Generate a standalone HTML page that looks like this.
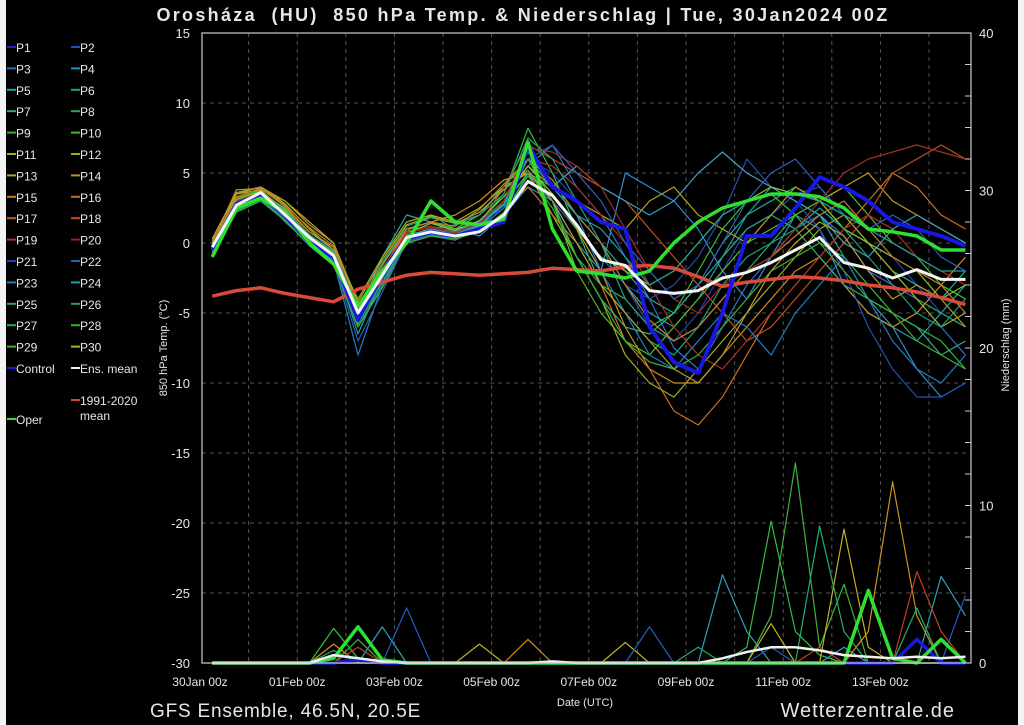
<!DOCTYPE html>
<html><head><meta charset="utf-8"><style>
html,body{margin:0;padding:0;background:#000;}
#wrap{position:relative;width:1024px;height:725px;background:#000;overflow:hidden;}
.edge{position:absolute;top:0;height:725px;background:#f4f4f4;}
svg text{font-family:"Liberation Sans","DejaVu Sans",sans-serif;fill:#e6e6e6;}
</style></head><body>
<div id="wrap">
<div class="edge" style="left:0;width:6px"></div>
<div class="edge" style="left:1018px;width:6px"></div>
<svg id="chart" width="1024" height="725" style="position:absolute;left:0;top:0">
<text x="523" y="21" text-anchor="middle" font-size="18" font-weight="bold" letter-spacing="2.3" style="white-space:pre">Orosháza  (HU)  850 hPa Temp. &amp; Niederschlag | Tue, 30Jan2024 00Z</text>
<text x="150" y="717" font-size="19" letter-spacing="0.8">GFS Ensemble, 46.5N, 20.5E</text>
<text x="955" y="717" text-anchor="end" font-size="20" letter-spacing="1">Wetterzentrale.de</text>
<text x="585" y="706" text-anchor="middle" font-size="11">Date (UTC)</text>
<text transform="translate(167,348) rotate(-90)" text-anchor="middle" font-size="11">850 hPa Temp. (°C)</text>
<text transform="translate(1009,345) rotate(-90)" text-anchor="middle" font-size="11">Niederschlag (mm)</text>
<g id="grid"></g><g id="precip"></g><g id="temps"></g><g id="axes"></g><g id="legend"></g>
</svg>
</div>
<script>
const times=[0.25,0.75,1.25,1.75,2.25,2.75,3.25,3.75,4.25,4.75,5.25,5.75,6.25,6.75,7.25,7.75,8.25,8.75,9.25,9.75,10.25,10.75,11.25,11.75,12.25,12.75,13.25,13.75,14.25,14.75,15.25,15.75];
const xTickLabels=["30Jan 00z","01Feb 00z","03Feb 00z","05Feb 00z","07Feb 00z","09Feb 00z","11Feb 00z","13Feb 00z"];
const xTickDays=[0,2,4,6,8,10,12,14];
const yTicks=[15,10,5,0,-5,-10,-15,-20,-25,-30];
const y2Ticks=[0,10,20,30,40];
const memberColors=["#2040c0","#3070d0","#2f8fcf","#25a0b0","#20b0a0","#20b070","#30c040","#50c020","#a0b020","#c0a020","#d09020","#d07020","#c05020","#b03020","#2050b0","#40a0c0","#30b080","#90c030","#2080c0","#20a080","#40b030","#b0a030","#c08030","#a03020","#3060c0","#20a0a0"];
const m1=[0,3,3.8,2.3,0.5,-1,-4.5,-1.5,1,1.2,0.8,1.5,2.5,6,5,3,0,-3,-6,-7,-5,-2,1,2,3.5,4,2,0,-1,-3,-5,-6];
const m2=[-0.5,2.5,3.4,1.5,0,-1.5,-6,-3,0,0.5,0.2,1,3,5.5,7,4,2,-1,-4,-7.5,-9,-6,-3,-1,1,2,0.5,-2,-3,-4,-6,-8];
const m3=[0.2,3,3.5,2.5,0.8,-0.5,-5.5,-2,1,1.5,1,0.5,2,4,3,0,-2,5,4,3,1,-2,-4,-1,2,1,-3,-5,-6,-9,-11,-10];
const m4=[-0.3,2.8,3.7,2,0.2,-1,-6.5,-2.5,0.5,1,1.3,2,4,5,3,1,-1,-3,-5,-6,-4,-1,2,4,3,2,-1,-4,-6,-7,-5,-3];
const m5=[-0.8,2.4,3.2,1.8,0.5,-0.8,-5,-1,2,1.5,0.8,1.2,3,6,4,2,0,-2,-4,-5,-3,0,2,3,4,3,1,0,-2,-3,-4,-2];
const m6=[-1,2.2,3,1.6,-0.2,-1.6,-5.8,-2.8,0.2,0.6,0.4,1,2,5,2,-1,-3,-5,-7,-8,-6,-4,-2,0,2,3,2,0,-2,-4,-5,-6];
const m7=[-0.5,2.8,3.3,2.2,0.5,-1.2,-5,-2,0.8,2,1,1.5,3.5,8.2,5,1,-3,-4,-6,-5,-2,1,3,3.5,2,0,-1,-3,-5,-6,-7,-9];
const m8=[0,3.2,3.8,2.2,0.3,-0.7,-4.5,-1.5,1,1.5,1,2,4,6,3,-2,-5,-7,-8,-6,-4,-2,0,1,2,3,4,2,0,-1,-3,-4];
const m9=[0.3,3.5,4,2.8,1,-0.5,-4,-1,1.5,2,1.5,2.5,4,5,2,-1,-4,-8,-10,-11,-9,-7,-5,-3,-1,1,2,0,-2,-4,-6,-5];
const m10=[-0.2,3.5,3.8,3,1.5,0,-4.5,-1.8,0.5,1,0.5,1.5,3,5.5,4,3,2,1,3,4,2,1,0,2,4,3,4,5,3,2,1,0];
const m11=[0,3.8,3.9,2.6,0.8,-0.3,-5,-2,1,1.5,2,3,4.5,5,3,1,-2,-6,-9,-10,-10,-8,-6,-4,-2,-1,-3,-5,-6,-5,-3,-1];
const m12=[-0.5,3,3.6,2,0.2,-1,-4.8,-1.8,0.5,1,0.5,1,2.5,4,2,0,-3,-7,-9,-12,-13,-11,-8,-5,-3,-1,1,3,5,4,2,1];
const m13=[-0.3,2.6,3.4,1.8,0.3,-1.2,-5.2,-2.2,0.4,0.9,0.6,1.3,4,7,6,5,4,3,1,-1,-3,-5,-7,-6,-4,-2,0,2,5,6,7,6];
const m14=[0.2,3,3.6,2.2,0.5,-0.8,-4.8,-2,0.8,1.2,0.8,1.5,3,6,5.5,4,2,0,-3,-6,-8,-9,-7,-5,-3,-1,1,2,1,-1,-2,-3];
const m15=[-0.6,2.4,3.2,1.7,0,-1.4,-5.6,-2.6,0.3,0.6,0.3,1,2.5,4.5,3,1,-1,-3,-4,-3,-1,2,6,4,3,1,-2,-6,-9,-11,-11,-10];
const m16=[-0.2,2.9,3.5,2,0.3,-1,-5.3,-2.3,0.5,1,0.7,1.3,2.7,5,4,5.5,4,3,2,3,5,6.5,5,4,3,2,0,-1,1,2,1,0];
const m17=[-0.4,2.7,3.5,2.1,0.4,-0.9,-5,-2.2,0.6,0.9,0.6,1.2,2.8,5,3,-1,-4,-6,-6.5,-5,-3,-1,1,2,1,-1,-3,-4,-5,-6,-8,-7];
const m18=[0.1,3.1,3.7,2.4,0.6,-0.7,-4.8,-2,0.7,1.4,0.9,1.6,3.3,5.5,3.5,1,-1,-2,-3,-2,0,2,3,4,3.5,3,1,0,-1,-2,-4,-3];
const m19=[-0.4,2.6,3.3,1.9,0.1,-1.3,-8,-3,0.2,1,0.8,1.5,3,6.5,4,2,-2,-5,-8,-9,-7,-5,-6,-8,-5,-3,-1,-4,-7,-9,-10,-8];
const m20=[-0.1,2.9,3.6,2.3,0.6,-0.6,-4.6,-1.4,1.2,1.8,1.4,2,3.5,7.5,6,3,0,-4,-6,-7,-6,-3,-1,0,1,2.5,1,-1,-3,-5,-6,-4];
const m21=[-0.7,2.3,3.1,1.6,-0.1,-1.5,-6,-3.2,0,0.5,0.3,0.8,2.2,4.8,2.5,-1,-4,-7,-8.5,-9,-8,-6,-4,-2,-1,0,-2,-4,-5,-7,-8,-9];
const m22=[0.3,3.6,4,3,1.3,0,-4.2,-1.2,1.3,1.9,1.4,2.2,3.8,5.2,3,0,-3,-5,-7,-9,-10,-8,-5,-2,0,1.5,0.5,-2,-4,-3,-4,-6];
const m23=[0,3.3,3.9,2.7,1.1,-0.2,-4.5,-1.6,1,1.5,1.2,2.4,4.2,6,4.5,2,0,-3,-5.5,-7,-6,-4,-2,-1,0.5,2,3,1,-1,-2,-3,-5];
const m24=[-0.2,2.8,3.6,2.1,0.4,-0.9,-5.1,-2.1,0.7,1.1,0.7,1.4,3,6.8,6.5,5.5,4,1,-2,-4,-5,-3,-2,-1,1,3,5,6,6.5,7,6.5,6];
const m25=[-0.5,2.5,3.3,1.8,0,-1.3,-7,-3.5,0.1,0.6,0.4,1.1,2.5,6,7,5,3,0,-2,-4,-3,0,3,5,6,4,2,1,2,1,-1,-2];
const m26=[-0.3,2.7,3.5,2,0.3,-1,-5.2,-2.4,0.5,0.9,0.6,1.2,2.8,6,4,2,1,-1,-3,-2,0,2,3,3.5,3.5,3,2,1,0,-1,-2,-2];
const members=[m1,m2,m3,m4,m5,m6,m7,m8,m9,m10,m11,m12,m13,m14,m15,m16,m17,m18,m19,m20,m21,m22,m23,m24,m25,m26];
const climMean=[-3.8,-3.4,-3.2,-3.6,-3.9,-4.2,-3.3,-2.8,-2.3,-2.1,-2.2,-2.3,-2.2,-2.1,-1.8,-1.9,-2,-1.7,-1.6,-1.8,-2.4,-3.1,-2.8,-2.6,-2.4,-2.5,-2.7,-3,-3.2,-3.5,-3.9,-4.4];
const ensMean=[-0.3,2.7,3.6,2,0.4,-0.9,-5,-2.3,0.4,0.8,0.5,0.8,2,4.4,3.4,1.3,-1.2,-1.6,-3.4,-3.6,-3.4,-2.5,-2.1,-1.4,-0.5,0.4,-1.4,-1.8,-2.5,-1.9,-2.6,-2.6];
const control=[-0.5,2.8,3.5,2,0,-1,-5.5,-2,0.3,0.8,0.5,1,1.5,7,4,3,1.5,1,-6,-8.5,-9.3,-5,0.5,0.5,2.5,4.7,4,3,1.5,1,0.5,-0.2];
const oper=[-1,2.5,3.2,2.2,0,-1.5,-4.5,-2,0,3,1.5,1.3,1.7,7.2,1,-2,-2.2,-2.5,-2,0,1.5,2.5,3,3.5,3.5,3.3,2.5,1,0.8,0.5,-0.5,-0.5];
const precipColors=["#30c040","#40b040","#30a0c0","#d09020","#c0b020","#c04020","#2060c0","#20b070"];
const pA=[0,0,0,0,0,2.2,0.3,0,0,0,0,0,0,0,0,0,0,0,0,0,0,0,1,9,2,0.5,0,0,0,0,0,0];
const pB=[0,0,0,0,0,0,1.5,0,0,0,0,0,0,0,0,0,0,0,0,0,0,0,0,3,12.7,1,5,0,0,0,0,0];
const pC=[0,0,0,0,0,0,0,2.3,0,0,0,0,0,0,0,0,0,0,0,0,0,5.6,2,0,0,0,1,0,0,0,5.5,3];
const pD=[0,0,0,0,0,1.2,0,0,0,0,0,0,0,1.5,0,0,0,0,0,0,0,0,0,0,0,0,0,2,11.5,3,0,0];
const pE=[0,0,0,0,0,0,0,0,0,0,0,1.2,0,0,0,0,0,1.3,0,0,0,0,0,2.5,0,0,8.5,1,0,0,0,0];
const pF=[0,0,0,0,0,0,1,0,0,0,0,0,0,0,0,0,0,0,0,0,0,0,0,0,0,1,0,0,0,5.8,2,0];
const pG=[0,0,0,0,0,0,0,0,3.5,0,0,0,0,0,0,0,0,0,2.3,0,0,0,0,1,0,0,0,0,0,0,0,4.3];
const pH=[0,0,0,0,0,0.8,0,0,0,0,0,0,0,0,0,0,0,0,0,0,1,0,0,0,0,8.7,2,0,0,3.5,0,0];
const precipMembers=[pA,pB,pC,pD,pE,pF,pG,pH];
const precipOper=[0,0,0,0,0,0.3,2.3,0.2,0,0,0,0,0,0,0,0,0,0,0,0,0,0,0,0,0,0,0,4.6,0.3,0,1.5,0];
const precipControl=[0,0,0,0,0,0,0.2,0,0,0,0,0,0,0,0,0,0,0,0,0,0,0,0,0,0,0,0,0,0,1.5,0,0];
const precipMean=[0,0,0,0,0,0.5,0.3,0.1,0,0,0,0,0,0,0.1,0,0,0,0,0,0,0.3,0.7,1,1,0.8,0.5,0.4,0.3,0.4,0.3,0.4];
const legendLabels=["P1","P2","P3","P4","P5","P6","P7","P8","P9","P10","P11","P12","P13","P14","P15","P16","P17","P18","P19","P20","P21","P22","P23","P24","P25","P26","P27","P28","P29","P30"];
const legendColors=["#2020c0","#2050c0","#2070c0","#2090c0","#20a0b0","#20a090","#20b070","#20b050","#30b030","#40c020","#a0b020","#b0a020","#c0a020","#c09020","#c08020","#c07020","#c06020","#c05020","#b03030","#a02020","#2040b0","#2060b0","#2080b0","#20a0b0","#20a090","#20a070","#20b050","#30b030","#40b020","#b0b020"];

const NS="http://www.w3.org/2000/svg";
const X0=200,PX_DAY=48.6,PL=202,PR=971,PT=33,PB=663;
const xs=d=>X0+d*PX_DAY;
const ys=v=>PT+(15-v)*(PB-PT)/45;
const yp=v=>PB-v*(PB-PT)/40;
function mk(tag,attrs,parent){const e=document.createElementNS(NS,tag);for(const k in attrs)e.setAttribute(k,attrs[k]);parent.appendChild(e);return e;}
const grid=document.getElementById('grid'),axes=document.getElementById('axes'),temps=document.getElementById('temps'),precip=document.getElementById('precip'),legend=document.getElementById('legend');
for(let d=1;d<16;d++){const l=mk('line',{x1:xs(d),x2:xs(d),y1:PT,y2:PB,stroke:'#555','stroke-dasharray':'4,4','stroke-width':1},grid);

}
yTicks.forEach(v=>{if(v<15&&v>-30){const l=mk('line',{x1:PL,x2:PR,y1:ys(v),y2:ys(v),stroke:'#555','stroke-dasharray':'4,4','stroke-width':1},grid);

}
const t=mk('text',{x:190,y:ys(v)+5,'text-anchor':'end','font-size':13},axes);t.textContent=v;

});
y2Ticks.forEach(v=>{const t=mk('text',{x:979,y:yp(v)+5,'font-size':13},axes);t.textContent=v;

});
for(let v=2;v<40;v+=2){const l=mk('line',{x1:PR-6,x2:PR,y1:yp(v),y2:yp(v),stroke:'#ccc'},axes);

}
xTickDays.forEach((d,i)=>{const t=mk('text',{x:xs(d),y:686,'text-anchor':'middle','font-size':12},axes);t.textContent=xTickLabels[i];

});
const fr=mk('rect',{x:PL,y:PT,width:PR-PL,height:PB-PT,fill:'none',stroke:'#ccc','stroke-width':1.2},axes);


function path(arr,fy,color,w,parent,name){const d=arr.map((v,i)=>(i?'L':'M')+xs(times[i]).toFixed(1)+','+fy(v).toFixed(1)).join('');
const p=mk('path',{d:d,fill:'none',stroke:color,'stroke-width':w,'stroke-linejoin':'round'},parent);

return p;}
precipMembers.forEach((a,i)=>path(a,yp,precipColors[i],1.2,precip,'precip-member-line'));
path(precipControl,yp,'#1818e0',3.5,precip,'precip-control-line');
path(precipOper,yp,'#30e030',3.5,precip,'precip-oper-line');
path(precipMean,yp,'#f0f0f0',2.5,precip,'precip-mean-line');
members.forEach((a,i)=>path(a,ys,memberColors[i],1.2,temps,'member-temp-line'));
path(climMean,ys,'#d84a3a',3.5,temps,'climate-mean-line');
path(control,ys,'#1818e0',4,temps,'control-temp-line');
path(oper,ys,'#30e030',3.5,temps,'oper-temp-line');
path(ensMean,ys,'#f4f4f4',3,temps,'ens-mean-line');
function legItem(x,y,color,label,name){const l=mk('line',{x1:x,x2:x+9,y1:y,y2:y,stroke:color,'stroke-width':2},legend);


const t=mk('text',{x:x+9,y:y+5,'font-size':12},legend);t.textContent=label;

return t;}
legendLabels.forEach((lab,i)=>{const col=i%2,row=Math.floor(i/2);legItem(col?71:7,47+row*21.4,legendColors[i],lab,'legend-entry');});
legItem(7,368,'#1818e0','Control','legend-control');
legItem(71,368,'#f0f0f0','Ens. mean','legend-ens-mean');
legItem(71,400,'#d84a3a','1991-2020','legend-climate-mean');
const mt=mk('text',{x:80,y:420,'font-size':12},legend);mt.textContent='mean';


legItem(7,419,'#30e030','Oper','legend-oper');
</script>
</body></html>
